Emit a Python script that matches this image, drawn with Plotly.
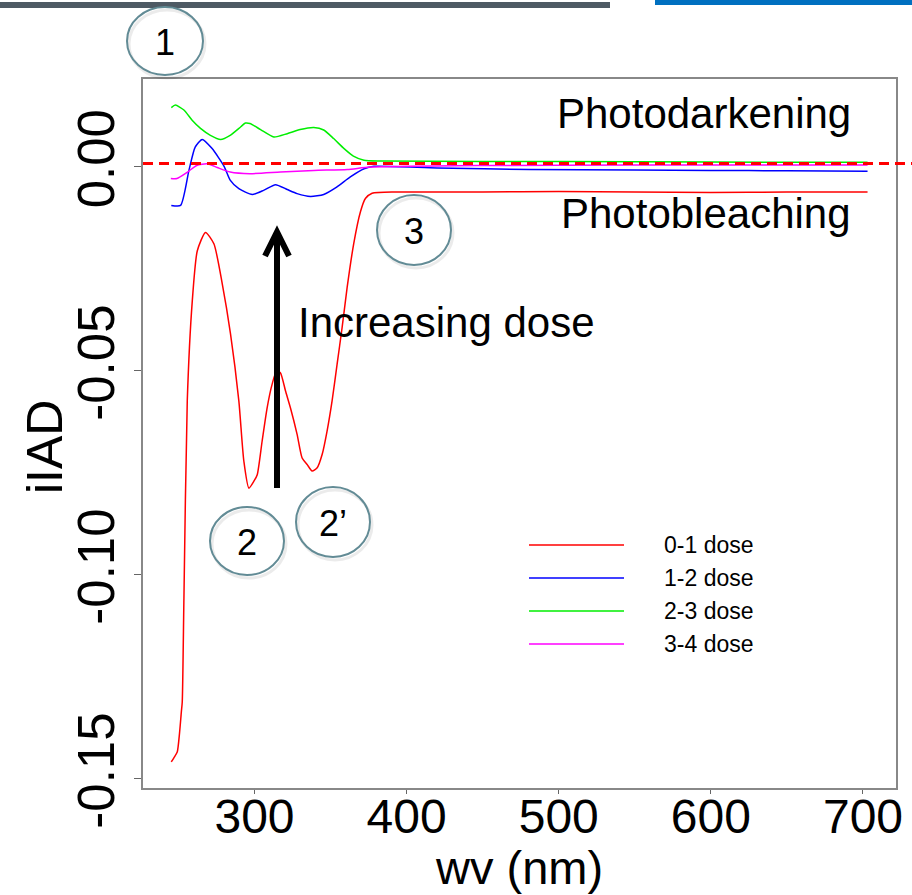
import plotly.graph_objects as go

# ---------------- data ----------------
wv_red = [245.3, 247.0, 249.2, 250.7, 251.9, 252.5, 253.6, 255.8, 259.1, 262.4, 267.8,
          273.3, 278.8, 284.2, 289.7, 293.0, 296.3, 299.6, 301.8, 305.0, 308.3, 311.6,
          314.5, 317.0, 320.4, 323.6, 328.0, 331.3, 334.6, 337.9, 341.2, 344.5, 347.7,
          351.0, 354.3, 357.6, 360.9, 365.2, 369.6, 372.9, 377.3, 393.7, 450, 500, 550,
          600, 650, 703]
iad_red = [-0.146, -0.145, -0.1436, -0.139, -0.1338, -0.1313, -0.106, -0.0575, -0.033,
           -0.0207, -0.0162, -0.019, -0.0288, -0.041, -0.0575, -0.0723, -0.0789, -0.0772,
           -0.0756, -0.0674, -0.0592, -0.0534, -0.0502, -0.0506, -0.0551, -0.0592, -0.0657,
           -0.0715, -0.0731, -0.0747, -0.0739, -0.0706, -0.0649, -0.0575, -0.0485, -0.0395,
           -0.0297, -0.019, -0.0112, -0.0079, -0.0066, -0.0063, -0.0063, -0.0062, -0.0063,
           -0.0064, -0.0063, -0.0063]

wv_blue = [245.3, 251.4, 256.9, 261.0, 265.6, 272.0, 280.0, 284.0, 289.7, 298.5, 306.0,
           313.8, 321.5, 328.0, 336.8, 345.5, 354.0, 363.0, 372.0, 378.5, 420, 481, 550,
           600, 650, 703]
iad_blue = [-0.0096, -0.0096, -0.001, 0.0047, 0.0066, 0.0044, 0.0, -0.0034, -0.0055,
            -0.0069, -0.0059, -0.0045, -0.0057, -0.0067, -0.0074, -0.0069, -0.0051,
            -0.0026, -0.0006, 0.0, -0.0004, -0.0008, -0.0009, -0.001, -0.0011, -0.0012]

wv_green = [245.3, 248.0, 253.6, 259.0, 264.5, 271.0, 277.7, 284.0, 291.0, 294.0, 297.0,
            304.0, 312.7, 321.5, 330.0, 339.0, 345.5, 352.0, 358.7, 365.0, 372.0, 383.0,
            450, 550, 650, 703]
iad_green = [0.0144, 0.015, 0.0138, 0.0113, 0.0093, 0.0076, 0.0066, 0.0076, 0.0097, 0.0106,
             0.0105, 0.009, 0.0072, 0.008, 0.009, 0.0095, 0.0089, 0.0068, 0.0044, 0.0025,
             0.0015, 0.0013, 0.0012, 0.0011, 0.001, 0.001]

wv_mag = [245.0, 249.0, 256.0, 262.0, 269.0, 275.5, 284.0, 297.0, 317.0, 339.0, 361.0,
          376.0, 450, 550, 650, 703]
iad_mag = [-0.003, -0.003, -0.0014, 0.0002, 0.0006, -0.0003, -0.0014, -0.0018, -0.0014,
           -0.001, -0.0008, -0.0002, 0.0002, 0.0003, 0.0003, 0.0003]

series_names = ["0-1 dose", "1-2 dose", "2-3 dose", "3-4 dose"]
series_colors = ["#ff0000", "#0000ff", "#00ee00", "#ff00ff"]
x_ticks = [300, 400, 500, 600, 700]
y_ticks = [-0.15, -0.10, -0.05, 0.00]
y_ticklabels = ["-0.15", "-0.10", "-0.05", "0.00"]
x_range = [226.7, 721.7]
y_range = [-0.1524, 0.0214]
ref_level = 0.0007

# ---------------- layout geometry (pixels) ----------------
W, H = 912, 895
L, R, T, B = 143, 896, 79, 788
FONT = "Liberation Sans, Arial, sans-serif"


def px(x):
    return (x - L) / (R - L)


def py(y):
    return (B - y) / (B - T)


fig = go.Figure()
xs = [wv_red, wv_blue, wv_green, wv_mag]
ys = [iad_red, iad_blue, iad_green, iad_mag]
for xv, yv, name, col in zip(xs, ys, series_names, series_colors):
    fig.add_trace(go.Scatter(x=xv, y=yv, mode="lines", name=name,
                             line=dict(color=col, width=1.5, shape="spline", smoothing=0.6),
                             showlegend=False))

shapes = []
annotations = []

# header bars of the slide
shapes.append(dict(type="rect", xref="paper", yref="paper", x0=px(0), x1=px(610),
                   y0=py(8), y1=py(2), line=dict(width=0), fillcolor="#4e5a64"))
shapes.append(dict(type="rect", xref="paper", yref="paper", x0=px(655), x1=px(914),
                   y0=py(5), y1=py(-2), line=dict(width=0), fillcolor="#0070c0"))

# reference dashed line
shapes.append(dict(type="line", xref="paper", yref="y", x0=0, x1=px(912),
                   y0=ref_level, y1=ref_level,
                   line=dict(color="#ff0000", width=3, dash="10px,6px")))

# arrow (increasing dose)
shapes.append(dict(type="line", xref="paper", yref="paper", x0=px(277), x1=px(277),
                   y0=py(488), y1=py(233), line=dict(color="black", width=6)))
shapes.append(dict(type="path", xref="paper", yref="paper",
                   path=f"M{px(265)},{py(256)} L{px(277)},{py(232)} L{px(289)},{py(256)}",
                   line=dict(color="black", width=6)))

# numbered circles
circles = [("1", 165, 41, 38, 34), ("3", 414, 230, 37, 35),
           ("2", 247, 541, 37, 34), ("2’", 333, 522, 37, 35)]
for label, cx, cy, rx, ry in circles:
    shapes.append(dict(type="circle", xref="paper", yref="paper",
                       x0=px(cx - rx + 2), x1=px(cx + rx + 2), y0=py(cy + ry + 3), y1=py(cy - ry + 3),
                       line=dict(color="rgba(0,0,0,0.08)", width=3)))
    shapes.append(dict(type="circle", xref="paper", yref="paper",
                       x0=px(cx - rx), x1=px(cx + rx), y0=py(cy + ry), y1=py(cy - ry),
                       line=dict(color="#628b95", width=2), fillcolor="rgba(255,255,255,0)"))
    annotations.append(dict(text=label, xref="paper", yref="paper", x=px(cx), y=py(cy + 1),
                            showarrow=False, xanchor="center", yanchor="middle",
                            font=dict(family=FONT, size=36, color="black")))

# texts
annotations.append(dict(text="Photodarkening", xref="paper", yref="paper", x=px(853), y=py(113),
                        showarrow=False, xanchor="right", yanchor="middle",
                        font=dict(family=FONT, size=42, color="black")))
annotations.append(dict(text="Photobleaching", xref="paper", yref="paper", x=px(853), y=py(213),
                        showarrow=False, xanchor="right", yanchor="middle",
                        font=dict(family=FONT, size=42, color="black")))
annotations.append(dict(text="Increasing dose", xref="paper", yref="paper", x=px(296), y=py(322),
                        showarrow=False, xanchor="left", yanchor="middle",
                        font=dict(family=FONT, size=42, color="black")))

# axis titles
annotations.append(dict(text="wv (nm)", xref="paper", yref="paper", x=px(519), y=py(867),
                        showarrow=False, xanchor="center", yanchor="middle",
                        font=dict(family=FONT, size=47, color="black")))
annotations.append(dict(text="iIAD", xref="paper", yref="paper", x=px(45), y=py(447),
                        showarrow=False, xanchor="center", yanchor="middle", textangle=-90,
                        font=dict(family=FONT, size=50, color="black")))

# custom legend
leg_y = [545, 578, 611, 644]
for name, col, ly in zip(series_names, series_colors, leg_y):
    shapes.append(dict(type="line", xref="paper", yref="paper", x0=px(529), x1=px(624),
                       y0=py(ly), y1=py(ly), line=dict(color=col, width=1.5)))
    annotations.append(dict(text=name, xref="paper", yref="paper", x=px(662), y=py(ly),
                            showarrow=False, xanchor="left", yanchor="middle",
                            font=dict(family=FONT, size=23, color="black")))

fig.update_layout(
    width=W, height=H,
    margin=dict(l=L, r=W - R, t=T, b=H - B, autoexpand=False),
    paper_bgcolor="white", plot_bgcolor="white",
    showlegend=False,
    shapes=shapes, annotations=annotations,
    font=dict(family=FONT, color="black"),
)
fig.update_xaxes(range=x_range, tickvals=x_ticks, ticks="outside", ticklen=4, tickwidth=1,
                 tickcolor="#666", showline=True, linecolor="#888", linewidth=1.5, mirror=True,
                 showgrid=False, zeroline=False, tickfont=dict(size=48, family=FONT, color="black"),
                 ticklabelstandoff=-18)
fig.update_yaxes(range=y_range, tickvals=y_ticks, ticktext=y_ticklabels, ticks="outside",
                 ticklen=7, tickwidth=1, tickcolor="#666", showline=True, linecolor="#888",
                 linewidth=1.5, mirror=True, showgrid=False, zeroline=False, tickangle=-90,
                 tickfont=dict(size=51, family=FONT, color="black"), ticklabelstandoff=0)

fig.write_html("out.html", config={"displayModeBar": False},
               post_script="document.body.style.margin='0';")
